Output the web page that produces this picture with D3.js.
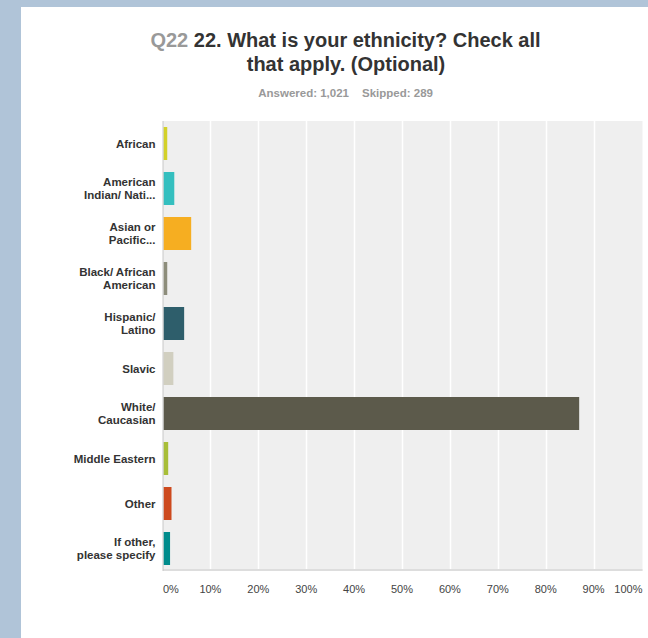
<!DOCTYPE html>
<html>
<head>
<meta charset="utf-8">
<script src="https://cdn.jsdelivr.net/npm/d3@7"></script>
<style>
  html, body { margin: 0; padding: 0; background: #b0c4d8; }
  svg { display: block; }
</style>
</head>
<body>
<svg id="chart" width="648" height="638"></svg>
<script>
// ---- data ----
const categories = [
  "African",
  "American Indian/ Nati...",
  "Asian or Pacific...",
  "Black/ African American",
  "Hispanic/ Latino",
  "Slavic",
  "White/ Caucasian",
  "Middle Eastern",
  "Other",
  "If other, please specify"
];
const labelLines = [
  ["African"],
  ["American", "Indian/ Nati..."],
  ["Asian or", "Pacific..."],
  ["Black/ African", "American"],
  ["Hispanic/", "Latino"],
  ["Slavic"],
  ["White/", "Caucasian"],
  ["Middle Eastern"],
  ["Other"],
  ["If other,", "please specify"]
];
const values = [0.78, 2.25, 5.78, 0.78, 4.31, 2.06, 86.78, 0.98, 1.67, 1.37];
const colors = ["#d3d128", "#34bfbf", "#f6ae21", "#8d8d7b", "#2e5e6b", "#d1cfc0", "#5c5a4b", "#a8be38", "#cd4a1e", "#008c8c"];
const tickValues = [0, 10, 20, 30, 40, 50, 60, 70, 80, 90, 100];
const tickLabels = ["0%", "10%", "20%", "30%", "40%", "50%", "60%", "70%", "80%", "90%", "100%"];
const titleQ = "Q22";
const titleLine1 = "22. What is your ethnicity? Check all";
const titleLine2 = "that apply. (Optional)";
const answered = "Answered: 1,021";
const skipped = "Skipped: 289";

// ---- drawing ----
const svg = d3.select("#chart");
const font = "'Liberation Sans', Arial, Helvetica, sans-serif";

// white panel
svg.append("rect").attr("x", 21).attr("y", 7).attr("width", 627).attr("height", 631).attr("fill", "#ffffff");

// titles
const t1 = svg.append("text").attr("x", 345.5).attr("y", 46.5)
  .attr("text-anchor", "middle").attr("font-family", font)
  .attr("font-size", 20).attr("font-weight", "bold");
t1.append("tspan").attr("fill", "#999999").text(titleQ + " ");
t1.append("tspan").attr("fill", "#333333").text(titleLine1);
svg.append("text").attr("x", 346).attr("y", 70.5)
  .attr("text-anchor", "middle").attr("font-family", font)
  .attr("font-size", 20).attr("font-weight", "bold").attr("fill", "#333333")
  .text(titleLine2);
svg.append("text").attr("x", 349).attr("y", 96.5)
  .attr("text-anchor", "end").attr("font-family", font)
  .attr("font-size", 11.5).attr("font-weight", "bold").attr("fill", "#999999")
  .text(answered);
svg.append("text").attr("x", 362).attr("y", 96.5)
  .attr("text-anchor", "start").attr("font-family", font)
  .attr("font-size", 11.5).attr("font-weight", "bold").attr("fill", "#999999")
  .text(skipped);

// scales
const plot = { left: 163.5, right: 642.5, top: 121, bottom: 571 };
const x = d3.scaleLinear().domain([0, 100]).range([plot.left, plot.right]);
const y = d3.scaleBand().domain(categories).range([plot.top, plot.bottom])
  .paddingInner(12 / 45).paddingOuter(6 / 45);

// plot background
svg.append("rect").attr("x", plot.left - 0.5).attr("y", plot.top)
  .attr("width", plot.right - plot.left + 0.5).attr("height", plot.bottom - plot.top)
  .attr("fill", "#efefef");

// grid lines
svg.append("g").selectAll("line").data(tickValues.filter(v => v > 0 && v < 100)).join("line")
  .attr("x1", d => Math.round(x(d)) - 0.5).attr("x2", d => Math.round(x(d)) - 0.5)
  .attr("y1", plot.top).attr("y2", plot.bottom)
  .attr("stroke", "#ffffff").attr("stroke-width", 1.5);

// bars
svg.append("g").selectAll("rect").data(values).join("rect")
  .attr("x", x(0))
  .attr("y", (d, i) => y(categories[i]))
  .attr("width", d => x(d) - x(0))
  .attr("height", y.bandwidth())
  .attr("fill", (d, i) => colors[i]);

// axis lines
svg.append("line").attr("x1", plot.left - 0.5).attr("x2", plot.right)
  .attr("y1", plot.bottom - 1).attr("y2", plot.bottom - 1)
  .attr("stroke", "#dddddd").attr("stroke-width", 2);
svg.append("line").attr("x1", plot.left - 0.5).attr("x2", plot.left - 0.5)
  .attr("y1", plot.top).attr("y2", plot.bottom)
  .attr("stroke", "#c8c8c8").attr("stroke-width", 1);

// x tick labels
svg.append("g").selectAll("text").data(tickValues).join("text")
  .attr("x", (d, i) => i === 0 ? x(d) - 0.5 : (i === tickValues.length - 1 ? x(d) : x(d) - 1))
  .attr("y", 593)
  .attr("text-anchor", (d, i) => i === 0 ? "start" : (i === tickValues.length - 1 ? "end" : "middle"))
  .attr("font-family", font).attr("font-size", 11).attr("fill", "#444444")
  .text((d, i) => tickLabels[i]);

// category labels
const lab = svg.append("g").selectAll("text").data(labelLines).join("text")
  .attr("text-anchor", "end").attr("font-family", font)
  .attr("font-size", 11.5).attr("font-weight", "bold").attr("fill", "#333333")
  .attr("transform", (d, i) => {
    const cy = y(categories[i]) + y.bandwidth() / 2;
    const firstBaseline = cy + 4 - (d.length - 1) * 6.5;
    return `translate(155.5,${firstBaseline})`;
  });
lab.selectAll("tspan").data(d => d).join("tspan")
  .attr("x", 0).attr("y", (d, j) => j * 13)
  .text(d => d);
</script>
</body>
</html>
